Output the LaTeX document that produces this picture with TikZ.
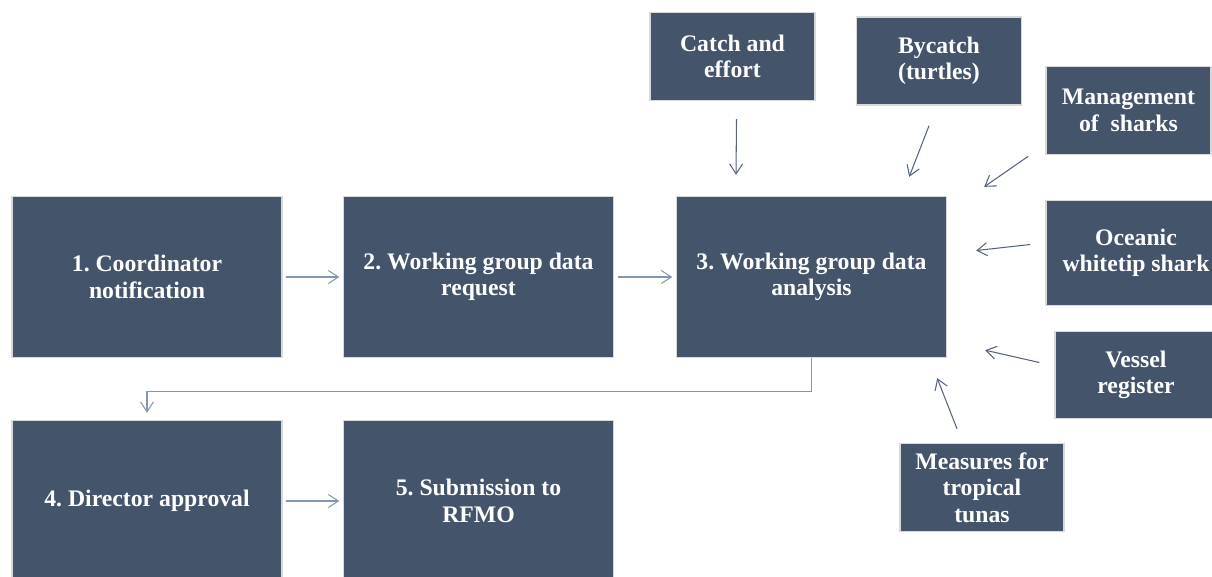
\documentclass[tikz,border=0pt]{standalone}
\usepackage{fontspec}
\setmainfont{Liberation Serif}
\usetikzlibrary{arrows.meta,calc,positioning}
\definecolor{boxfill}{RGB}{68,84,106}
\definecolor{boxline}{RGB}{217,217,217}
\definecolor{flowline}{RGB}{132,151,176}
\definecolor{feedline}{RGB}{84,100,125}
\frenchspacing

\begin{document}
\begin{tikzpicture}[x=0.02cm,y=-0.02cm,
    stage/.style={draw=boxline,line width=0.8pt,fill=boxfill,text=white,
      font=\fontsize{13.5}{15}\selectfont\bfseries,align=center,inner sep=0pt,
      minimum width=5.4cm,minimum height=3.22cm},
    source/.style={stage,minimum width=3.3cm,minimum height=1.76cm},
    flow/.style={draw=flowline,line width=0.6pt,-{Straight Barb[length=2mm,width=2.6mm]}},
    feed/.style={flow,draw=feedline}]
  \useasboundingbox (0,0) rectangle (1212,576);
  \clip (0,0) rectangle (1212,576);
  % main stages
  \node[stage] (coord) at (147,277) {1. Coordinator\\notification};
  \node[stage] (request) at (478.5,277) {2. Working group data\\request};
  \node[stage] (analysis) at (811.5,277) {3. Working group data\\analysis};
  \node[stage] (approval) at (147,501) {4. Director approval};
  \node[stage] (submit) at (478.5,501) {5. Submission to\\RFMO};
  % data sources
  \node[source] (catch) at (732.5,56.5) {Catch and\\effort};
  \node[source] (bycatch) at (939,61) {Bycatch\\(turtles)};
  \node[source] (sharks) at (1128.5,110.5) {Management\\of\ \ sharks};
  \node[source,minimum width=3.6cm,minimum height=2.1cm] (whitetip) at (1136,253) {Oceanic\\whitetip shark};
  \node[source,minimum width=3.24cm,minimum height=1.74cm] (vessel) at (1136,375) {Vessel\\register};
  \node[source,minimum width=3.28cm] (tunas) at (982,487.5) {Measures for\\tropical\\tunas};
  % process flow
  \draw[flow,shorten <=2pt,shorten >=2pt] (coord) -- (request);
  \draw[flow,shorten <=2pt,shorten >=2pt] (request) -- (analysis);
  \draw[flow,shorten >=4pt] (analysis.south) -- ++(0,33) -| (approval.north);
  \draw[flow,shorten <=2pt,shorten >=2pt] (approval) -- (submit);
  % inputs to the analysis
  \draw[feed] ($(catch.south)+(4,18)$) -- ($(analysis.north)+(-75.5,-21)$);
  \draw[feed] ($(bycatch.south)+(-10,20)$) -- ($(analysis.north east)+(-38,-19)$);
  \draw[feed] ($(sharks.south west)+(-17,1)$) -- ($(analysis.north east)+(37,-9)$);
  \draw[feed] ($(whitetip.west)+(-15,-8.5)$) -- ($(analysis.east)+(29,-26.5)$);
  \draw[feed] ($(vessel.west)+(-15,-12.5)$) -- ($(analysis.south east)+(38,-8)$);
  \draw[feed] ($(tunas.north)+(-25,-14)$) -- ($(analysis.south east)+(-10,20)$);
\end{tikzpicture}
\end{document}
